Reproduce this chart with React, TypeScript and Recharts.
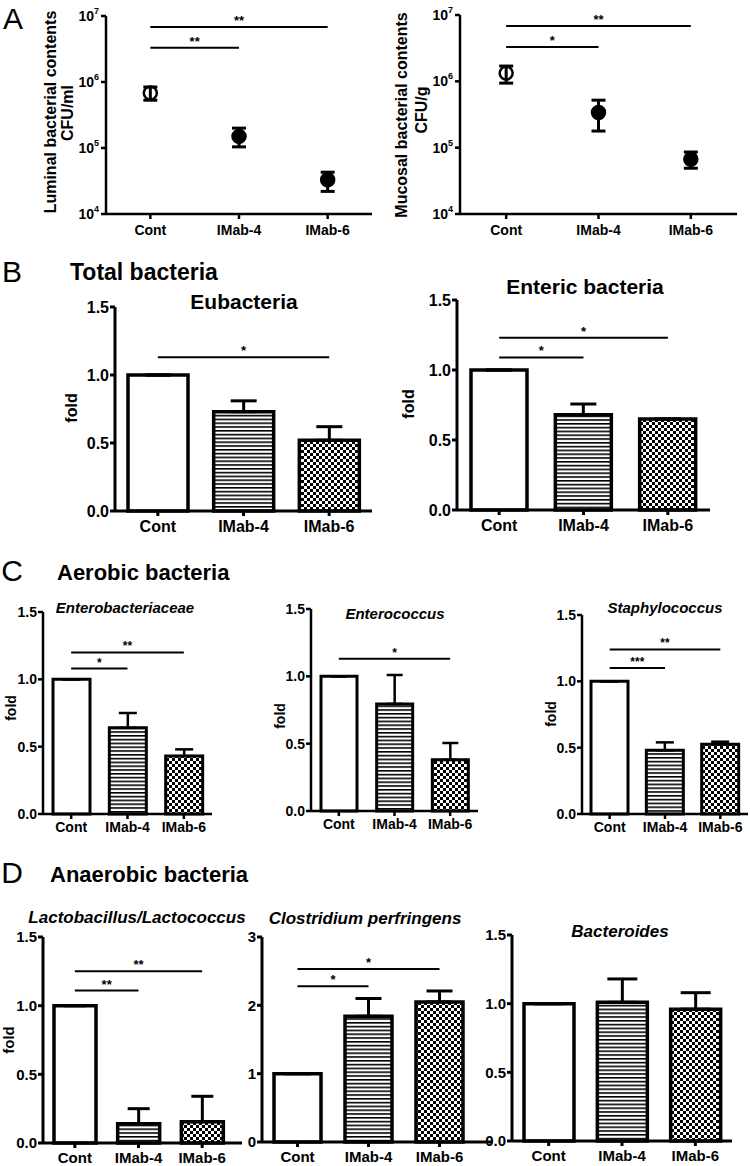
import React from 'react';
import { BarChart, Bar, Cell, LineChart, Line, XAxis, YAxis, ErrorBar, ReferenceLine } from 'recharts';

const groups = ['Cont', 'IMab-4', 'IMab-6'];

// A: bacterial counts, mean and the two ends of each error bar
const luminalMean = [6.8e5, 1.5e5, 3.3e4];
const luminalUpper = [8.4e5, 2.0e5, 4.3e4];
const luminalLower = [5.3e5, 1.04e5, 2.2e4];
const mucosalMean = [1.33e6, 3.4e5, 6.7e4];
const mucosalUpper = [1.7e6, 5.2e5, 8.6e4];
const mucosalLower = [9.4e5, 1.78e5, 4.9e4];

// B-D: fold change and upper error
const eubacteria = [1.0, 0.73, 0.52];
const eubacteriaErr = [0, 0.08, 0.1];
const enteric = [1.0, 0.68, 0.65];
const entericErr = [0, 0.077, 0];
const enterobacteriaceae = [1.0, 0.64, 0.43];
const enterobacteriaceaeErr = [0, 0.11, 0.05];
const enterococcus = [1.0, 0.795, 0.38];
const enterococcusErr = [0, 0.215, 0.125];
const staphylococcus = [1.0, 0.48, 0.525];
const staphylococcusErr = [0, 0.06, 0.02];
const lactobacillus = [1.0, 0.14, 0.155];
const lactobacillusErr = [0, 0.11, 0.185];
const clostridium = [1.0, 1.84, 2.05];
const clostridiumErr = [0, 0.26, 0.16];
const bacteroides = [1.0, 1.01, 0.96];
const bacteroidesErr = [0, 0.17, 0.12];

const logTicks = [1e4, 1e5, 1e6, 1e7];
const foldTicks = [0, 0.5, 1, 1.5];
const clostTicks = [0, 1, 2, 3];

// significance brackets: from / to group, height, stars
type Sig = { from: string; to: string; y: number; mark: string };
const luminalSig: Sig[] = [{ from: 'Cont', to: 'IMab-6', y: 6.8e6, mark: '**' }, { from: 'Cont', to: 'IMab-4', y: 3.3e6, mark: '**' }];
const mucosalSig: Sig[] = [{ from: 'Cont', to: 'IMab-6', y: 6.8e6, mark: '**' }, { from: 'Cont', to: 'IMab-4', y: 3.3e6, mark: '*' }];
const eubacteriaSig: Sig[] = [{ from: 'Cont', to: 'IMab-6', y: 1.13, mark: '*' }];
const entericSig: Sig[] = [{ from: 'Cont', to: 'IMab-6', y: 1.23, mark: '*' }, { from: 'Cont', to: 'IMab-4', y: 1.09, mark: '*' }];
const enterobacteriaceaeSig: Sig[] = [{ from: 'Cont', to: 'IMab-6', y: 1.2, mark: '**' }, { from: 'Cont', to: 'IMab-4', y: 1.08, mark: '*' }];
const enterococcusSig: Sig[] = [{ from: 'Cont', to: 'IMab-6', y: 1.13, mark: '*' }];
const staphylococcusSig: Sig[] = [{ from: 'Cont', to: 'IMab-6', y: 1.24, mark: '**' }, { from: 'Cont', to: 'IMab-4', y: 1.1, mark: '***' }];
const lactobacillusSig: Sig[] = [{ from: 'Cont', to: 'IMab-6', y: 1.25, mark: '**' }, { from: 'Cont', to: 'IMab-4', y: 1.11, mark: '**' }];
const clostridiumSig: Sig[] = [{ from: 'Cont', to: 'IMab-6', y: 2.53, mark: '*' }, { from: 'Cont', to: 'IMab-4', y: 2.28, mark: '*' }];

const SANS = '"Liberation Sans", Arial, sans-serif';
const NARROW = '"Liberation Sans Narrow", "Liberation Sans", Arial, sans-serif';
const fills = ['#fff', 'url(#stripes)', 'url(#checks)'];

function Txt({ x, y, size, children, rotate = 0, italic = false, bold = true, font = SANS, start = false }: any) {
  return (
    <div
      style={{
        position: 'absolute', left: x, top: y, whiteSpace: 'nowrap', lineHeight: 1,
        transform: `translate(${start ? '0' : '-50%'},-50%) rotate(${rotate}deg)`,
        fontFamily: font, fontSize: size, fontWeight: bold ? 700 : 400, fontStyle: italic ? 'italic' : 'normal', color: '#000',
      }}
    >
      {children}
    </div>
  );
}

function sigLines(sig: Sig[], size: number) {
  return sig.map((s, i) => (
    <ReferenceLine
      key={i}
      segment={[{ x: s.from, y: s.y }, { x: s.to, y: s.y }]}
      stroke="#000"
      strokeWidth={2}
      label={{ value: s.mark, position: 'top', fill: '#000', fontSize: size, fontWeight: 700, fontFamily: SANS, offset: 2 }}
    />
  ));
}

const PowTick = (props: any) => {
  const { x, y, payload } = props;
  const exp = Math.round(Math.log10(payload.value));
  return (
    <text x={x} y={y} dy={5} textAnchor="end" fill="#000" fontSize={14} fontWeight={700} fontFamily={SANS}>
      <tspan>10</tspan>
      <tspan dy={-7} fontSize={9}>{exp}</tspan>
    </text>
  );
};

// cap is the half length of an error bar cap (recharts draws width to each side)
function DotPanel({ box, mean, upper, lower, sig, cap }: any) {
  const yW = 50, xH = 30, mt = 10, mr = 4;
  const data = groups.map((g, i) => ({ g, v: mean[i], e: [mean[i] - lower[i], upper[i] - mean[i]] }));
  const half = (box.r - box.l) / 6;
  const axis = { stroke: '#000', strokeWidth: 2.5 };
  return (
    <div style={{ position: 'absolute', left: box.l - yW, top: box.t - mt }}>
      <LineChart width={yW + box.r - box.l + mr} height={mt + box.b - box.t + xH} data={data} margin={{ top: mt, right: mr, bottom: 0, left: 0 }}>
        <XAxis dataKey="g" height={xH} padding={{ left: half, right: half }} axisLine={axis} tickLine={axis} tickSize={5} tickMargin={6}
          tick={{ fill: '#000', fontSize: 14, fontWeight: 700, fontFamily: SANS }} interval={0} />
        <YAxis type="number" scale="log" domain={[1e4, 1e7]} ticks={logTicks} allowDataOverflow width={yW}
          axisLine={axis} tickLine={axis} tickSize={5} tickMargin={2} tick={<PowTick />} />
        <Line dataKey="v" stroke="none" isAnimationActive={false}
          dot={(p: any) => <circle key={p.index} cx={p.cx} cy={p.cy} r={6.5} fill={p.index === 0 ? 'none' : '#000'} stroke="#000" strokeWidth={2.5} />}>
          <ErrorBar dataKey="e" width={cap} stroke="#000" strokeWidth={3} direction="y" />
        </Line>
        {sigLines(sig, 13)}
      </LineChart>
    </div>
  );
}

function BarPanel({ box, pad = 0, values, errs, sig = [], max = 1.5, ticks = foldTicks, digits = 1, barSize, cap, font = SANS, fs = 16, stroke = 3, tm = 5, starSize = 13 }: any) {
  const yW = 45, xH = 30, mt = 10, mr = 4;
  const data = groups.map((g, i) => ({ g, v: values[i], e: [0, errs[i]] }));
  const axis = { stroke: '#000', strokeWidth: stroke };
  return (
    <div style={{ position: 'absolute', left: box.l - yW, top: box.t - mt }}>
      <BarChart width={yW + box.r - box.l + mr} height={mt + box.b - box.t + xH} data={data} margin={{ top: mt, right: mr, bottom: 0, left: 0 }}>
        <XAxis dataKey="g" height={xH} padding={{ left: 0, right: pad }} axisLine={axis} tickLine={axis} tickSize={5} tickMargin={tm}
          tick={{ fill: '#000', fontSize: fs, fontWeight: 700, fontFamily: font }} interval={0} />
        <YAxis type="number" domain={[0, max]} ticks={ticks} width={yW} axisLine={axis} tickLine={axis} tickSize={5} tickMargin={1}
          tick={{ fill: '#000', fontSize: fs, fontWeight: 700, fontFamily: font }} tickFormatter={(v: number) => v.toFixed(digits)} />
        <Bar dataKey="v" barSize={barSize} stroke="#000" strokeWidth={stroke + 0.5} isAnimationActive={false}>
          {data.map((d, i) => <Cell key={d.g} fill={fills[i]} />)}
          <ErrorBar dataKey="e" width={cap} stroke="#000" strokeWidth={stroke} direction="y" />
        </Bar>
        {sigLines(sig, starSize)}
      </BarChart>
    </div>
  );
}

export default function App() {
  return (
    <div style={{ position: 'absolute', left: 0, top: 0, width: 750, height: 1166, background: '#fff', overflow: 'hidden' }}>
      <svg width={0} height={0} style={{ position: 'absolute' }}>
        <defs>
          <pattern id="stripes" width={4} height={3.8} patternUnits="userSpaceOnUse">
            <rect width={4} height={3.8} fill="#fff" />
            <rect width={4} height={1.6} fill="#000" />
          </pattern>
          <pattern id="checks" width={6} height={6} patternUnits="userSpaceOnUse">
            <rect width={6} height={6} fill="#fff" />
            <rect width={3} height={3} fill="#000" />
            <rect x={3} y={3} width={3} height={3} fill="#000" />
          </pattern>
        </defs>
      </svg>

      {/* A */}
      <Txt x={13} y={19} size={30} bold={false}>A</Txt>
      <Txt x={51} y={112} size={16} rotate={-90}>Luminal bacterial contents</Txt>
      <Txt x={68} y={113} size={16} rotate={-90}>CFU/ml</Txt>
      <DotPanel box={{ l: 106, t: 16, r: 372, b: 214 }} mean={luminalMean} upper={luminalUpper} lower={luminalLower} sig={luminalSig} cap={7} />
      <Txt x={402} y={115} size={16} rotate={-90}>Mucosal bacterial contents</Txt>
      <Txt x={422} y={110} size={16} rotate={-90}>CFU/g</Txt>
      <DotPanel box={{ l: 460, t: 15, r: 737, b: 214 }} mean={mucosalMean} upper={mucosalUpper} lower={mucosalLower} sig={mucosalSig} cap={7} />

      {/* B */}
      <Txt x={12} y={272} size={30} bold={false}>B</Txt>
      <Txt x={70} y={272} size={23} start>Total bacteria</Txt>
      <Txt x={244} y={301} size={21}>Eubacteria</Txt>
      <Txt x={72} y={408} size={16} rotate={-90}>fold</Txt>
      <BarPanel box={{ l: 115, t: 307, r: 372, b: 511 }} values={eubacteria} errs={eubacteriaErr} sig={eubacteriaSig} barSize={60} cap={13} />
      <Txt x={585} y={286} size={21}>Enteric bacteria</Txt>
      <Txt x={409} y={404} size={16} rotate={-90}>fold</Txt>
      <BarPanel box={{ l: 457, t: 300, r: 710, b: 510 }} values={enteric} errs={entericErr} sig={entericSig} barSize={56} cap={13} />

      {/* C */}
      <Txt x={12} y={571} size={30} bold={false}>C</Txt>
      <Txt x={57} y={573} size={22} start>Aerobic bacteria</Txt>
      <Txt x={125} y={607} size={15} italic>Enterobacteriaceae</Txt>
      <Txt x={11} y={708} size={14} rotate={-90} font={NARROW}>fold</Txt>
      <BarPanel box={{ l: 43, t: 612, r: 212, b: 814 }} values={enterobacteriaceae} errs={enterobacteriaceaeErr} sig={enterobacteriaceaeSig}
        barSize={37} cap={9} font={NARROW} fs={14} stroke={2.5} tm={3} starSize={12} />
      <Txt x={395} y={613} size={15} italic>Enterococcus</Txt>
      <Txt x={280} y={716} size={14} rotate={-90} font={NARROW}>fold</Txt>
      <BarPanel box={{ l: 311, t: 609, r: 478, b: 811 }} values={enterococcus} errs={enterococcusErr} sig={enterococcusSig}
        barSize={36} cap={8} font={NARROW} fs={14} stroke={2.5} tm={3} starSize={12} />
      <Txt x={665} y={607} size={15} italic>Staphylococcus</Txt>
      <Txt x={551} y={714} size={14} rotate={-90} font={NARROW}>fold</Txt>
      <BarPanel box={{ l: 582, t: 615, r: 748, b: 814 }} values={staphylococcus} errs={staphylococcusErr} sig={staphylococcusSig}
        barSize={37} cap={9} font={NARROW} fs={14} stroke={2.5} tm={3} starSize={12} />

      {/* D */}
      <Txt x={12} y={873} size={30} bold={false}>D</Txt>
      <Txt x={50} y={875} size={22} start>Anaerobic bacteria</Txt>
      <Txt x={137} y={917} size={17} italic>Lactobacillus/Lactococcus</Txt>
      <Txt x={8} y={1040} size={15} rotate={-90} font={NARROW}>fold</Txt>
      <BarPanel box={{ l: 43, t: 937, r: 242, b: 1143 }} pad={8} values={lactobacillus} errs={lactobacillusErr} sig={lactobacillusSig}
        barSize={42} cap={11} font={NARROW} fs={15} tm={4} />
      <Txt x={365} y={918} size={17} italic>Clostridium perfringens</Txt>
      <BarPanel box={{ l: 262, t: 937, r: 492, b: 1142 }} pad={17} values={clostridium} errs={clostridiumErr} sig={clostridiumSig}
        max={3} ticks={clostTicks} digits={0} barSize={47} cap={13} font={NARROW} fs={15} tm={4} />
      <Txt x={620} y={931} size={17} italic>Bacteroides</Txt>
      <BarPanel box={{ l: 512, t: 935, r: 732, b: 1141 }} values={bacteroides} errs={bacteroidesErr}
        barSize={50} cap={15} font={NARROW} fs={15} tm={4} />
    </div>
  );
}
